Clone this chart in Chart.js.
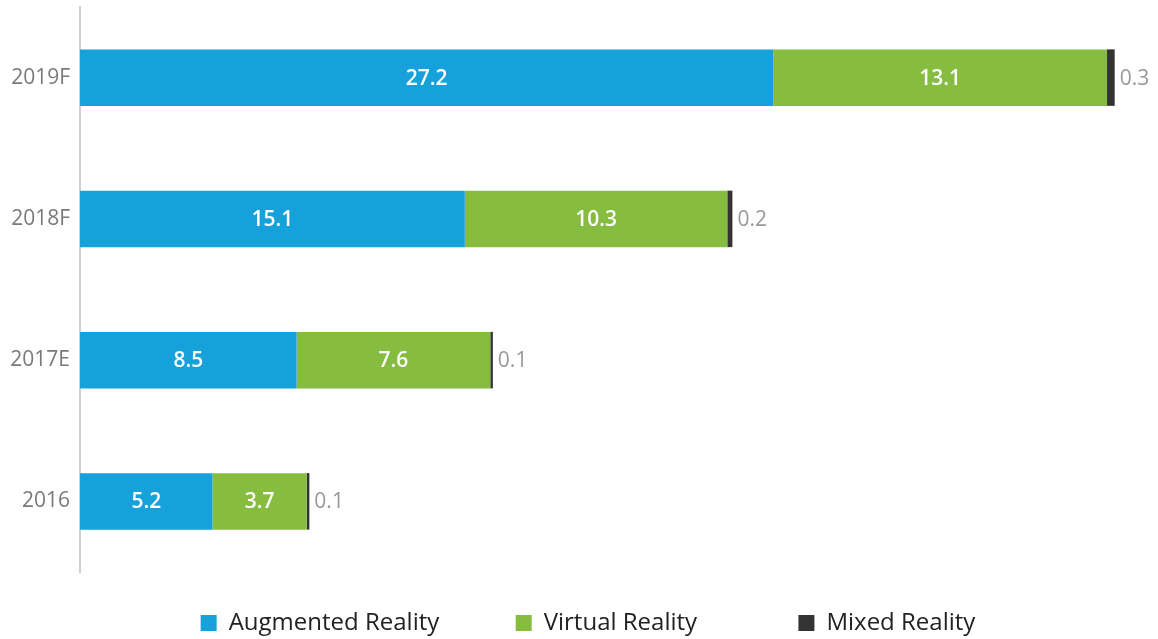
<!DOCTYPE html>
<html>
<head>
<meta charset="utf-8">
<script src="https://cdn.jsdelivr.net/npm/chart.js@4.4.0/dist/chart.umd.min.js"></script>
<style>
  html, body { margin: 0; padding: 0; background: #fff; }
  #wrap { width: 1158px; height: 639px; }
</style>
</head>
<body>
<div id="wrap"><canvas id="myChart"></canvas></div>
<script>
const years = ["2019F", "2018F", "2017E", "2016"];
const augmented = [27.2, 15.1, 8.5, 5.2];
const virtual = [13.1, 10.3, 7.6, 3.7];
const mixed = [0.3, 0.2, 0.1, 0.1];
const seriesNames = ["Augmented Reality", "Virtual Reality", "Mixed Reality"];

// extra gap after each legend entry (in spaces)
const legendGaps = [6, 10, 0];

const barLabels = {
  id: "barLabels",
  afterLayout(chart) {
    // legend sits a little right of the canvas centre
    chart.legend.left += 9;
    chart.legend.right += 9;
  },
  afterDatasetsDraw(chart) {
    const ctx = chart.ctx;
    chart.data.datasets.forEach((ds, i) => {
      const meta = chart.getDatasetMeta(i);
      meta.data.forEach((bar, j) => {
        const txt = ds.data[j].toFixed(1);
        ctx.save();
        ctx.textBaseline = "middle";
        if (i < 2) {
          ctx.font = "600 21px 'Open Sans'";
          ctx.fillStyle = "#ffffff";
          ctx.textAlign = "center";
          ctx.fillText(txt, (bar.x + bar.base) / 2, bar.y + 1);
        } else {
          ctx.font = "21px 'Open Sans'";
          ctx.fillStyle = "#999999";
          ctx.textAlign = "left";
          ctx.fillText(txt, bar.x + 5, bar.y + 1);
        }
        ctx.restore();
      });
    });
  }
};

const ctx = document.getElementById("myChart").getContext("2d");
const myChart = new Chart(ctx, {
  type: "bar",
  data: {
    labels: years,
    datasets: [
      { label: seriesNames[0], data: augmented, backgroundColor: "#17a1da" },
      { label: seriesNames[1], data: virtual, backgroundColor: "#86bd40" },
      { label: seriesNames[2], data: mixed, backgroundColor: "#333333" },
    ],
  },
  options: {
    indexAxis: "y",
    responsive: true,
    maintainAspectRatio: false,
    animation: false,
    events: [],
    datasets: {
      bar: { barPercentage: 0.4, categoryPercentage: 1 },
    },
    layout: { padding: { top: 7, right: 0, bottom: -6, left: 0 } },
    scales: {
      x: {
        stacked: true,
        display: false,
        min: 0,
        max: 42.3,
      },
      y: {
        stacked: true,
        grid: { display: false },
        border: { display: true, color: "#d0d0d0", width: 2 },
        ticks: {
          color: "#7a7a7a",
          padding: 2,
          font: { family: "'Open Sans'", size: 21 },
        },
        afterFit(scale) {
          scale.width = 80;
          scale.paddingTop = 0;
          scale.paddingBottom = 0;
        },
      },
    },
    plugins: {
      tooltip: { enabled: false },
      legend: {
        position: "bottom",
        labels: {
          boxWidth: 16,
          boxHeight: 16,
          padding: 39,
          color: "#222222",
          font: { family: "'Open Sans'", size: 24 },
          generateLabels(chart) {
            const items = Chart.defaults.plugins.legend.labels.generateLabels(chart);
            items.forEach((it, k) => {
              it.text = it.text + " ".repeat(legendGaps[k]);
              it.lineWidth = 0;
            });
            return items;
          },
        },
      },
    },
  },
  plugins: [barLabels],
});
</script>
</body>
</html>
